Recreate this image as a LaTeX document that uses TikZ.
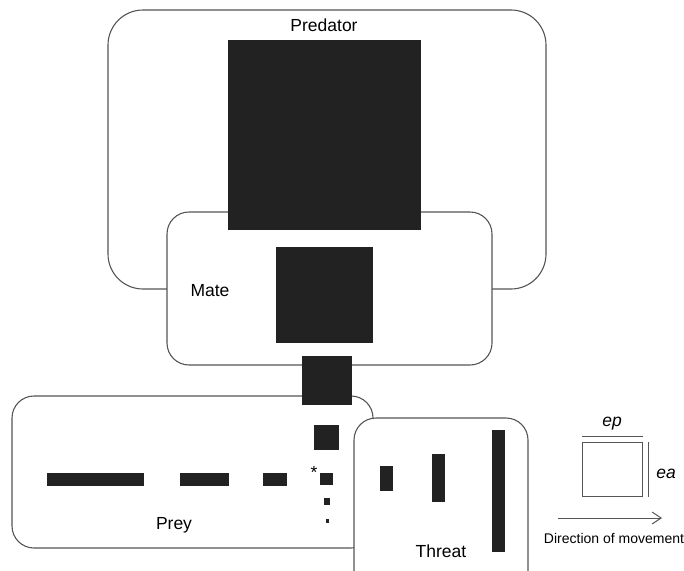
\documentclass[tikz,border=0pt]{standalone}
\usepackage{fontspec}
\setmainfont{Liberation Sans}
\usetikzlibrary{arrows.meta}
\definecolor{edge}{HTML}{555555}
\definecolor{ink}{HTML}{222222}
\tikzset{
  region/.style={draw=edge, line width=1.1pt, fill=white},
  block/.style={fill=ink, draw=none},
  lbl/.style={inner sep=0pt, font=\fontsize{17.5}{20}\selectfont},
  small/.style={inner sep=0pt, font=\fontsize{14}{16}\selectfont},
  guide/.style={draw=edge, line width=1pt}
}
\begin{document}
\begin{tikzpicture}[x=1pt, y=-1pt]
\useasboundingbox (0,0) rectangle (684,570);
\clip (0,0) rectangle (684,570);

% Predator region
\draw[region, rounded corners=35pt] (108,10) rectangle (546,289);
% Mate region
\draw[region, rounded corners=22pt] (167,212) rectangle (492,365);
\fill[block] (228,40) rectangle (421,230);
\fill[block] (276,247) rectangle (373,343);

% Prey region
\draw[region, rounded corners=22pt] (12,396) rectangle (373,548);
% Threat region
\draw[region, rounded corners=22pt] (354,418) rectangle (528,600);

% link between mate and prey
\fill[block] (302,356) rectangle (352,405);

% prey blocks
\fill[block] (47,473) rectangle (144,486);
\fill[block] (180,473) rectangle (229,486);
\fill[block] (263,473) rectangle (287,486);
\fill[block] (314,425) rectangle (339,450);
\fill[block] (320,473) rectangle (333,485);
\fill[block] (324,498) rectangle (330,505);
\fill[block] (326,519) rectangle (329,523);
\node[lbl] (star) at (314,472) {*};

% threat blocks
\fill[block] (380,466) rectangle (393,491);
\fill[block] (432,454) rectangle (445,502);
\fill[block] (492,430) rectangle (505,552);

% labels
\node[lbl] (predator) at (324,25) {Predator};
\node[lbl] (mate) at (210,291) {Mate};
\node[lbl] (prey) at (174,525) {Prey};
\node[lbl] (threat) at (441,551) {Threat};

% legend
\draw[guide] (582,442) rectangle (642,496);
\coordinate (epL) at (582,436);
\coordinate (epR) at (643,436);
\draw[guide] (epL) -- (epR);
\coordinate (eaT) at (648,442);
\coordinate (eaB) at (648,497);
\draw[guide] (eaT) -- (eaB);
\node[lbl, font=\fontsize{17.5}{20}\selectfont\itshape] (ep) at (612,424) {ep};
\node[lbl, font=\fontsize{17.5}{20}\selectfont\itshape] (ea) at (666,474) {ea};
\coordinate (dirA) at (558,518);
\coordinate (dirB) at (662,518);
\draw[guide, -{Straight Barb[length=9pt, width=12pt]}] (dirA) -- (dirB);
\node[small] (dir) at (614,538) {Direction of movement};
\end{tikzpicture}
\end{document}
